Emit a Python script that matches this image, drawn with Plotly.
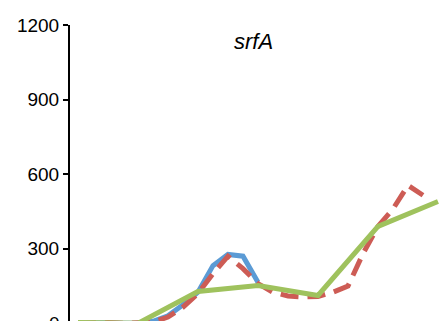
import plotly.graph_objects as go

# time points (hours); quarter-hourly for blue/red, hourly for green
t_blue = [0, 0.25, 0.5, 0.75, 1, 1.25, 1.5, 1.75, 2, 2.25, 2.5, 2.75, 3]
blue = [0, 3, 2, 0, 0, 8, 30, 75, 125, 232, 277, 270, 165]

t_red = [0, 0.25, 0.5, 0.75, 1, 1.25, 1.5, 1.75, 2, 2.25, 2.5, 2.75, 3,
         3.25, 3.5, 3.75, 4, 4.25, 4.5, 4.75, 5, 5.25, 5.5, 5.75]
red = [0, 2, 3, 0, 0, 5, 25, 65, 120, 200, 270, 220, 160,
       125, 110, 106, 108, 125, 150, 280, 390, 460, 555, 515]

t_green = [0, 1, 2, 3, 4, 5, 6]
green = [3, 0, 128, 152, 112, 390, 490]

y_ticks = [300, 600, 900, 1200]
title_text = "srfA"

Y_MIN, Y_MAX = 9.3, 1200

fig = go.Figure()
fig.add_trace(go.Scatter(x=t_blue, y=blue, mode="lines",
                         line=dict(color="#5B9BD5", width=5), name="blue"))
fig.add_trace(go.Scatter(x=t_red, y=red, mode="lines",
                         line=dict(color="#CD5C55", width=5, dash="18px,9px"), name="red"))
fig.add_trace(go.Scatter(x=t_green, y=green, mode="lines",
                         line=dict(color="#9FC25D", width=5), name="green"))

fig.update_layout(
    width=442, height=321,
    margin=dict(l=70, r=0, t=25, b=0),
    paper_bgcolor="white", plot_bgcolor="white",
    showlegend=False,
    font=dict(family="Liberation Sans, Arial, sans-serif", color="black"),
    xaxis=dict(range=[-0.133, 6.067], showline=False, showgrid=False,
               zeroline=False, showticklabels=False, ticks=""),
    yaxis=dict(range=[Y_MIN, Y_MAX], showline=True, linecolor="black", linewidth=2,
               ticks="outside", ticklen=5, tickwidth=2, tickcolor="black",
               tickvals=y_ticks, ticktext=[str(v) for v in y_ticks],
               tickfont=dict(size=19), showgrid=False, zeroline=False),
    annotations=[
        dict(text="<i>" + title_text + "</i>", x=2.93, y=1132, xref="x", yref="y",
             showarrow=False, font=dict(size=22),
             xanchor="center", yanchor="middle"),
        dict(text="0", x=0, y=(0 - Y_MIN) / (Y_MAX - Y_MIN), xref="paper", yref="paper",
             showarrow=False, xanchor="right", yanchor="middle", xshift=-8,
             font=dict(size=19)),
    ],
)

fig.write_html("out.html")
